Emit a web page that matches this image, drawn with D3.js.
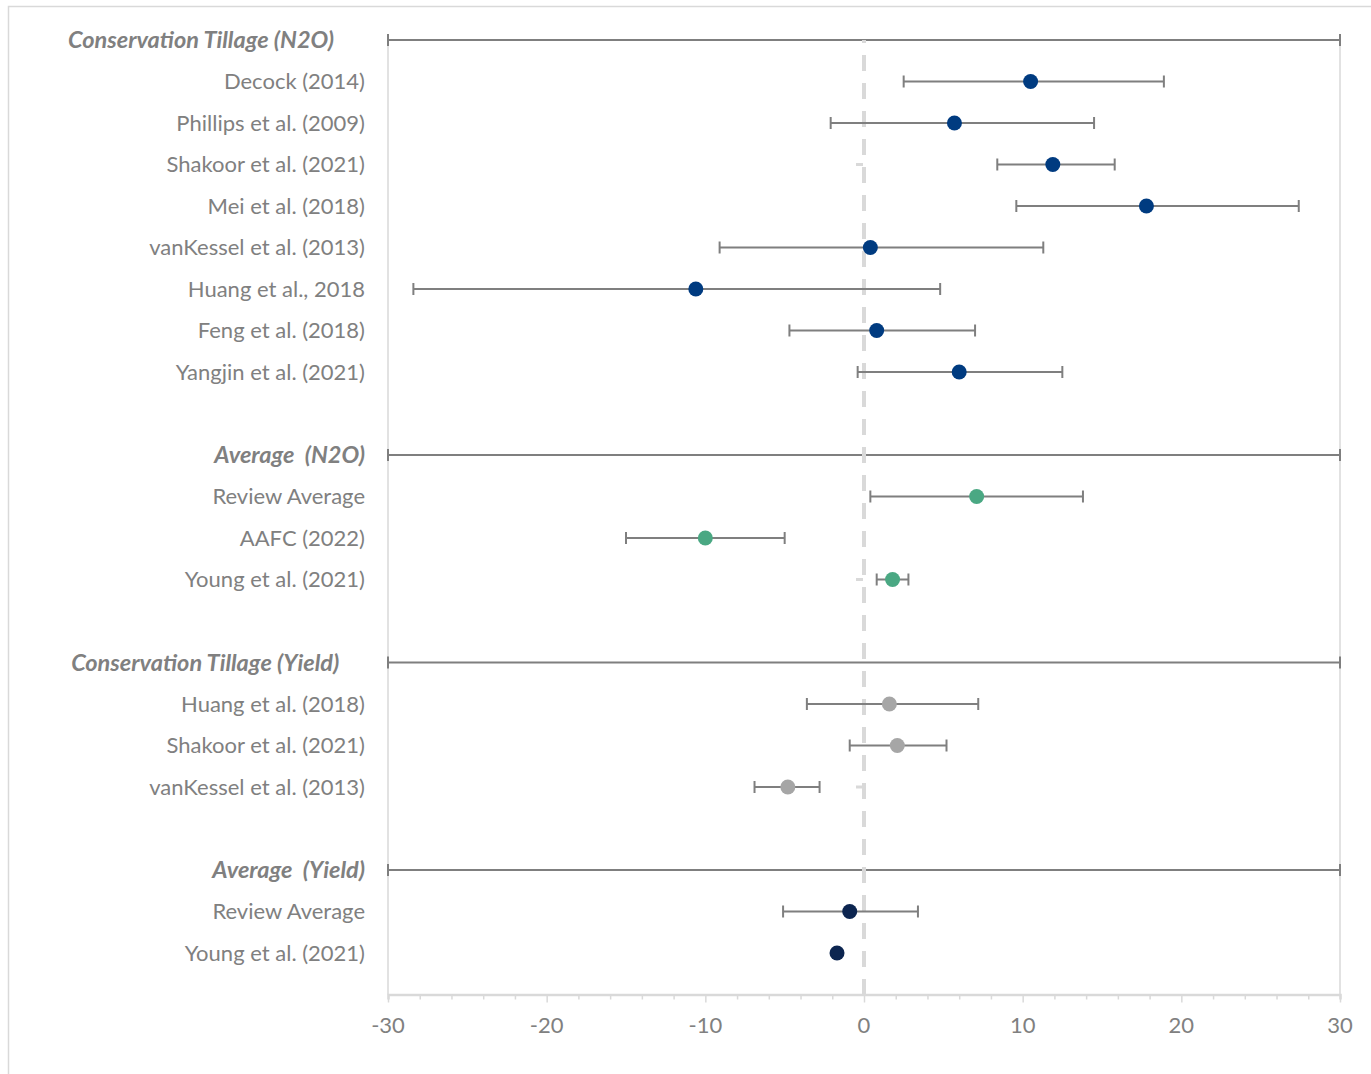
<!DOCTYPE html>
<html>
<head>
<meta charset="utf-8">
<script src="https://cdn.jsdelivr.net/npm/d3@7"></script>
<style>
  html, body { margin: 0; padding: 0; background: #fff; }
  svg { display: block; }
  text { font-family: Lato, "Open Sans", sans-serif; }
</style>
</head>
<body>
<script>
// Row labels, top to bottom ("" = spacer row)
const rowLabels = [
  "Conservation Tillage (N2O)      ",
  "Decock (2014)",
  "Phillips et al. (2009)",
  "Shakoor et al. (2021)",
  "Mei et al. (2018)",
  "vanKessel et al. (2013)",
  "Huang et al., 2018",
  "Feng et al. (2018)",
  "Yangjin et al. (2021)",
  "",
  "Average  (N2O)",
  "Review Average",
  "AAFC (2022)",
  "Young et al. (2021)",
  "",
  "Conservation Tillage (Yield)     ",
  "Huang et al. (2018)",
  "Shakoor et al. (2021)",
  "vanKessel et al. (2013)",
  "",
  "Average  (Yield)",
  "Review Average",
  "Young et al. (2021)"
];

// Row kind: section header, spacer, or one of the four point series
const rowKinds = [
  "header", "n2o", "n2o", "n2o", "n2o", "n2o", "n2o", "n2o", "n2o", "blank",
  "header", "n2oAvg", "n2oAvg", "n2oAvg", "blank",
  "header", "yield", "yield", "yield", "blank",
  "header", "yieldAvg", "yieldAvg"
];

// Effect (%) with lower / upper bounds
const effects = [
  null, 10.5, 5.7, 11.9, 17.8, 0.4, -10.6, 0.8, 6.0, null,
  null, 7.1, -10.0, 1.8, null,
  null, 1.6, 2.1, -4.8, null,
  null, -0.9, -1.7
];
const lowerBounds = [
  null, 2.5, -2.1, 8.4, 9.6, -9.1, -28.4, -4.7, -0.4, null,
  null, 0.4, -15.0, 0.8, null,
  null, -3.6, -0.9, -6.9, null,
  null, -5.1, null
];
const upperBounds = [
  null, 18.9, 14.5, 15.8, 27.4, 11.3, 4.8, 7.0, 12.5, null,
  null, 13.8, -5.0, 2.8, null,
  null, 7.2, 5.2, -2.8, null,
  null, 3.4, null
];

// Rows carrying a short stub at zero
const zeroStubRows = [3, 13, 18];

const xTicks = [-30, -20, -10, 0, 10, 20, 30];
const xDomain = [-30, 30];

const seriesColors = {
  n2o: "#003b80",
  n2oAvg: "#4aa883",
  yield: "#a6a6a6",
  yieldAvg: "#0c2550"
};

const W = 1371, H = 1074;
const plotLeft = 388, plotRight = 1340, plotTop = 40;
const rowStep = 41.5;

const svg = d3.select("body").append("svg")
  .attr("width", W).attr("height", H);

// outer chart frame
svg.append("rect")
  .attr("x", 8.5).attr("y", 6.5)
  .attr("width", 1400).attr("height", 1100)
  .attr("fill", "#fff").attr("stroke", "#d9d9d9").attr("stroke-width", 1.5);

const x = d3.scaleLinear().domain(xDomain).range([plotLeft, plotRight]);
const y = d3.scaleLinear().domain([0, rowLabels.length])
  .range([plotTop, plotTop + rowStep * rowLabels.length]);
const plotBottom = y(rowLabels.length);

const rows = rowLabels.map((label, i) => ({
  i, label, kind: rowKinds[i],
  v: effects[i], lo: lowerBounds[i], hi: upperBounds[i]
}));

const grey = "#7f7f7f";
const cap = 6;

// plot frame (left / right edges)
svg.append("line")
  .attr("x1", plotLeft).attr("x2", plotLeft).attr("y1", plotTop).attr("y2", plotBottom)
  .attr("stroke", "#d9d9d9").attr("stroke-width", 1.5);
svg.append("line")
  .attr("x1", plotRight).attr("x2", plotRight).attr("y1", plotTop).attr("y2", plotBottom)
  .attr("stroke", "#d9d9d9").attr("stroke-width", 1.5);

// x axis
const minorTicks = d3.range(xDomain[0], xDomain[1] + 0.001, 2);
const axis = d3.axisBottom(x)
  .tickValues(minorTicks)
  .tickSize(5)
  .tickFormat("");
const gAxis = svg.append("g").attr("transform", `translate(0,${plotBottom})`).call(axis);
gAxis.select(".domain").attr("stroke", "#d9d9d9").attr("stroke-width", 2.5);
gAxis.selectAll(".tick line").attr("stroke", "#d9d9d9").attr("stroke-width", 1.5)
  .attr("y2", d => (d % 10 === 0 ? 8 : 5));

svg.append("g").selectAll("text").data(xTicks).join("text")
  .attr("x", d => x(d)).attr("y", plotBottom + 38)
  .attr("text-anchor", "middle")
  .attr("fill", "#808080")
  .attr("font-size", 22)
  .text(d => String(d));

// section rules
const headers = rows.filter(r => r.kind === "header");
const gHead = svg.append("g");
headers.forEach(r => {
  const yy = y(r.i);
  gHead.append("line")
    .attr("x1", x(xDomain[0])).attr("x2", x(xDomain[1]))
    .attr("y1", yy).attr("y2", yy)
    .attr("stroke", grey).attr("stroke-width", 2);
  [xDomain[0], xDomain[1]].forEach(v => {
    gHead.append("line")
      .attr("x1", x(v)).attr("x2", x(v))
      .attr("y1", yy - cap).attr("y2", yy + cap)
      .attr("stroke", grey).attr("stroke-width", 2);
  });
});

// zero reference line
svg.append("line")
  .attr("x1", x(0)).attr("x2", x(0))
  .attr("y1", plotTop).attr("y2", plotBottom)
  .attr("stroke", "#d9d9d9").attr("stroke-width", 4)
  .attr("stroke-dasharray", "16,12").attr("stroke-dashoffset", 13);

// short stubs left of zero
svg.append("g").selectAll("line").data(zeroStubRows).join("line")
  .attr("x1", x(0) - 8).attr("x2", x(0) - 1)
  .attr("y1", d => y(d)).attr("y2", d => y(d))
  .attr("stroke", "#d9d9d9").attr("stroke-width", 3);

// error bars
const withBars = rows.filter(r => r.lo !== null && r.hi !== null && r.kind !== "header");
const gBars = svg.append("g");
withBars.forEach(r => {
  const yy = y(r.i);
  gBars.append("line")
    .attr("x1", x(r.lo)).attr("x2", x(r.hi))
    .attr("y1", yy).attr("y2", yy)
    .attr("stroke", grey).attr("stroke-width", 2);
  [r.lo, r.hi].forEach(v => {
    gBars.append("line")
      .attr("x1", x(v)).attr("x2", x(v))
      .attr("y1", yy - cap).attr("y2", yy + cap)
      .attr("stroke", grey).attr("stroke-width", 2);
  });
});

// points
svg.append("g").selectAll("circle")
  .data(rows.filter(r => r.v !== null))
  .join("circle")
  .attr("cx", d => x(d.v)).attr("cy", d => y(d.i))
  .attr("r", 7.5)
  .attr("fill", d => seriesColors[d.kind]);

// row labels
const labelRight = 365;
const gLab = svg.append("g");
rows.filter(r => r.label).forEach(r => {
  const isHead = r.kind === "header";
  gLab.append("text")
    .attr("x", labelRight).attr("y", y(r.i))
    .attr("dy", "0.35em")
    .attr("text-anchor", "end")
    .attr("fill", "#808080")
    .attr("font-size", isHead ? 23.5 : 22)
    .attr("font-weight", isHead ? 700 : 400)
    .attr("font-style", isHead ? "italic" : "normal")
    .attr("xml:space", "preserve")
    .style("white-space", "pre")
    .text(r.label);
});
</script>
</body>
</html>
